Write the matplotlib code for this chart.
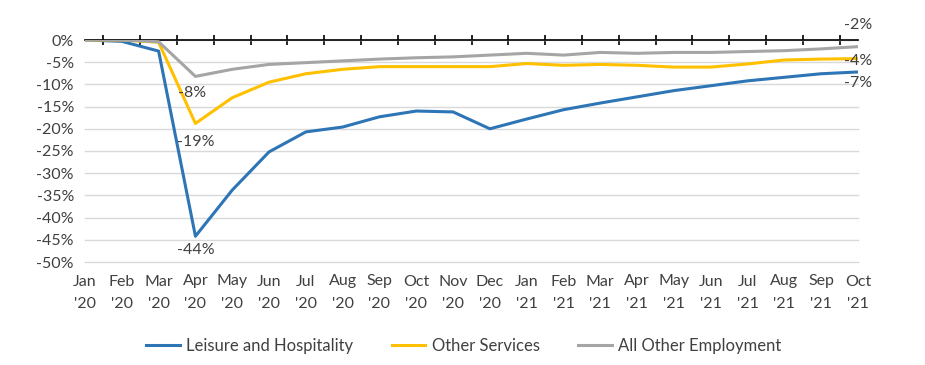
import matplotlib
matplotlib.use("Agg")
import matplotlib.pyplot as plt
import numpy as np

plt.rcParams['font.family'] = ['Lato', 'DejaVu Sans']

months = ["Jan\n'20", "Feb\n'20", "Mar\n'20", "Apr\n'20", "May\n'20", "Jun\n'20",
          "Jul\n'20", "Aug\n'20", "Sep\n'20", "Oct\n'20", "Nov\n'20", "Dec\n'20",
          "Jan\n'21", "Feb\n'21", "Mar\n'21", "Apr\n'21", "May\n'21", "Jun\n'21",
          "Jul\n'21", "Aug\n'21", "Sep\n'21", "Oct\n'21"]

leisure = [0, -0.3, -2.5, -44.2, -33.8, -25.2, -20.7, -19.6, -17.3, -16.0, -16.2, -20.0,
           -17.8, -15.7, -14.2, -12.8, -11.4, -10.3, -9.2, -8.4, -7.6, -7.2]
other_services = [0, 0, -0.5, -18.8, -13.0, -9.5, -7.6, -6.6, -6.0, -6.0, -6.0, -6.0,
                  -5.3, -5.7, -5.5, -5.7, -6.1, -6.1, -5.4, -4.5, -4.3, -4.2]
all_other = [0, 0, -0.4, -8.2, -6.6, -5.5, -5.1, -4.7, -4.3, -4.0, -3.8, -3.4,
             -3.0, -3.4, -2.8, -3.0, -2.8, -2.8, -2.6, -2.4, -2.0, -1.5]

blue = '#2E75B6'
yellow = '#FFC000'
gray = '#A5A5A5'
txt = '#404040'

fig = plt.figure(figsize=(9.25, 3.65), dpi=100)
ax = fig.add_axes([85/925, 1 - 262/365, (858-85)/925, 222/365])

x = np.arange(len(months))
ax.plot(x, leisure, color=blue, lw=2.2, label='Leisure and Hospitality', zorder=3)
ax.plot(x, other_services, color=yellow, lw=2.2, label='Other Services', zorder=3)
ax.plot(x, all_other, color=gray, lw=2.2, label='All Other Employment', zorder=3)

ax.set_xlim(0, len(months) - 1)
ax.set_ylim(-50, 0)
ax.set_yticks(np.arange(-50, 1, 5))
ax.set_yticklabels([f"{v}%" for v in range(-50, 1, 5)])
ax.yaxis.grid(True, color='#D9D9D9', lw=1)
for gl in ax.get_ygridlines():
    gl.set_clip_on(False)
ax.set_axisbelow(True)
for s in ['left', 'right', 'bottom']:
    ax.spines[s].set_visible(False)
ax.spines['top'].set_color('black')
ax.spines['top'].set_linewidth(1.2)
ax.tick_params(axis='y', length=0, labelsize=11.5, labelcolor=txt, pad=8)

# category labels at the bottom, ticks on the zero line between categories
ax.set_xticks(x)
ax.set_xticklabels(months, linespacing=1.75)
ax.tick_params(axis='x', length=0, labelsize=11.5, labelcolor=txt, pad=9)
ax.set_xticks(np.append(np.arange(0.5, len(months) - 1, 1), len(months) - 1), minor=True)
ax.tick_params(axis='x', which='minor', top=True, bottom=False, direction='inout',
               length=7, width=1.2, color='black')

lab = dict(fontsize=11.5, color=txt, ha='center')
ax.text(2.9, all_other[3] - 2.2, f"{all_other[3]:.0f}%", va='top', **lab)
ax.text(3, other_services[3] - 2.5, f"{other_services[3]:.0f}%", va='top', **lab)
ax.text(3, leisure[3] - 1.6, f"{leisure[3]:.0f}%", va='top', **lab)
ax.text(21, all_other[-1] + 3.3, f"{all_other[-1]:.0f}%", va='bottom', **lab)
ax.text(21, other_services[-1] - 0.6, f"{other_services[-1]:.0f}%", va='center', **lab)
ax.text(21, leisure[-1] - 0.8, f"{leisure[-1]:.0f}%", va='top', **lab)
for t in ax.texts:
    t.set_clip_on(False)

leg = fig.legend(loc='center', bbox_to_anchor=(464/925, 1 - 346/365), ncol=3,
                 frameon=False, fontsize=12, handlelength=2.0, columnspacing=2.3,
                 handletextpad=0.4)
for t in leg.get_texts():
    t.set_color(txt)

plt.savefig('out.png', dpi=100)
